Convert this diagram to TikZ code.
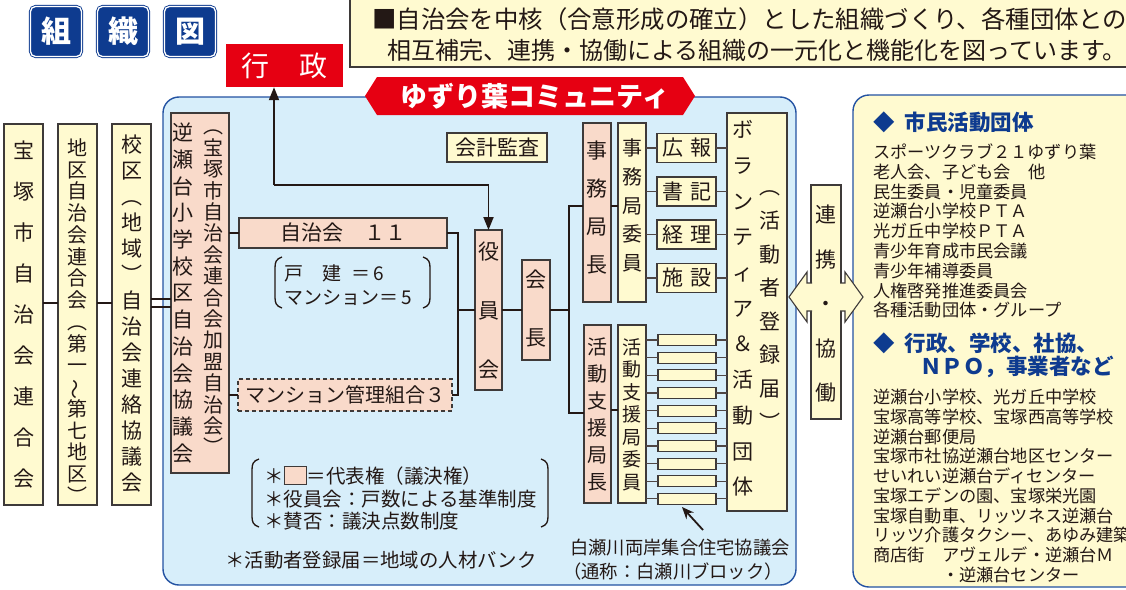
\documentclass[tikz,border=0pt]{standalone}
\usepackage{fontspec}
\usepackage{graphicx}
\setmainfont{Noto Sans CJK JP}
\usetikzlibrary{arrows.meta}
\definecolor{ink}{HTML}{231815}
\definecolor{tblue}{HTML}{0E3B8F}
\definecolor{rred}{HTML}{E60012}
\definecolor{lyel}{HTML}{FFFAD0}
\definecolor{pinkc}{HTML}{F9DACA}
\definecolor{lblue}{HTML}{D7EEFA}
\definecolor{bblue}{HTML}{2352A2}
\definecolor{boxline}{HTML}{3E3A39}
\newcommand{\vwave}{\rotatebox[origin=c]{90}{～}}
\newcommand{\legsq}{{\setlength{\fboxsep}{0pt}\setlength{\fboxrule}{1pt}\fcolorbox{boxline}{pinkc}{\rule{0pt}{17pt}\rule{21pt}{0pt}}}}
\begin{document}
\begin{tikzpicture}[x=1pt,y=-1pt,
  box/.style={draw=boxline,line width=1.1pt,inner sep=0pt,outer sep=0pt},
  pbox/.style={box,fill=pinkc},
  ybox/.style={box,fill=lyel},
  vt/.style 2 args={font=\fontsize{#1}{#2}\selectfont,align=center,inner sep=0pt,text=ink},
  ht/.style={font=\fontsize{#1}{#1}\selectfont,inner sep=0pt,text=ink},
  conn/.style={draw=ink,line width=1.8pt},
  thinc/.style={draw=ink!80,line width=1.2pt},
  arrtip/.style={-{Triangle[length=13pt,width=10pt]}},
  titlebox/.style={fill=tblue,draw=tblue,double=white,double distance=1.3pt,line width=0.9pt,rounded corners=5pt,minimum width=51pt,minimum height=50pt,inner sep=0pt,text=white,font=\fontsize{30}{30}\selectfont\bfseries},
]
\useasboundingbox (0,0) rectangle (1126,589);
\clip (0,0) rectangle (1126,589);

% title
\node[titlebox] (ti1) at (56,31.5) {組};
\node[titlebox] (ti2) at (123,31.5) {織};
\node[titlebox] (ti3) at (190,31.5) {図};

% gyosei
\node[fill=rred,minimum width=117pt,minimum height=43pt,inner sep=0pt,text=white,font=\fontsize{28}{28}\selectfont] (gyosei) at (284.5,65.5) {行\hspace{30pt}政};

% top text box
\node[ybox,line width=1.4pt,minimum width=790pt,minimum height=75pt,anchor=north west] (topbox) at (350,-8) {};
\node[ht=24.4,anchor=west] (top1) at (372,19) {■自治会を中核（合意形成の確立）とした組織づくり、各種団体との};
\node[ht=24,anchor=west] (top2) at (387,50) {相互補完、連携・協働による組織の一元化と機能化を図っています。};

% regions
\draw[fill=lblue,draw=bblue,line width=1.4pt,rounded corners=16pt] (163,97) rectangle (796,585);
\draw[fill=lyel,draw=bblue,line width=1.4pt,rounded corners=16pt] (853,95) rectangle (1160,587);

% banner
\fill[rred] (365,96) -- (377,77) -- (683,77) -- (695,96) -- (683,115) -- (377,115) -- cycle;
\node[inner sep=0pt,text=white,font=\fontsize{27}{27}\selectfont\bfseries] (banner) at (535,96) {ゆずり葉コミュニティ};

% left column boxes
\node[ybox,minimum width=39pt,minimum height=381pt] (A) at (23.5,314.5) {};
\node[vt={21}{41}] (At) at (23.5,315) {宝\\塚\\市\\自\\治\\会\\連\\合\\会};
\node[ybox,minimum width=39pt,minimum height=381pt] (B) at (77.5,314.5) {};
\node[vt={20}{21.75}] (Bt) at (77.5,321) {地\\区\\自\\治\\会\\連\\合\\会\\︵\\第\\一\\\vwave\\第\\七\\地\\区\\︶};
\node[ybox,minimum width=39pt,minimum height=381pt] (C) at (131.5,314.5) {};
\node[vt={21}{26}] (Ct) at (131.5,314) {校\\区\\︵\\地\\域\\︶\\自\\治\\会\\連\\絡\\協\\議\\会};
\node[pbox,minimum width=58pt,minimum height=360pt] (D) at (200,293) {};
\node[vt={21}{26.7}] (Dl) at (183,293) {逆\\瀬\\台\\小\\学\\校\\区\\自\\治\\会\\協\\議\\会};
\node[vt={20}{21.4}] (Dr) at (213,292.5) {︵\\宝\\塚\\市\\自\\治\\会\\連\\合\\会\\加\\盟\\自\\治\\会\\︶};

\draw[conn] (A.east |- 0,303) -- (B.west |- 0,303);
\draw[conn] (B.east |- 0,303) -- (C.west |- 0,303);
\draw[conn,line width=1.5pt] (C.east |- 0,299) -- (D.west |- 0,299);
\draw[conn,line width=1.5pt] (C.east |- 0,307) -- (D.west |- 0,307);

% jichikai boxes
\node[pbox,minimum width=208pt,minimum height=30pt,font=\fontsize{21}{21}\selectfont,text=ink] (JC) at (343,233) {自治会　１１};
\node[pbox,dashed,dash pattern=on 4pt off 3pt,minimum width=214pt,minimum height=32pt,font=\fontsize{20}{20}\selectfont,text=ink] (MK) at (345,395) {マンション管理組合３};
\node[anchor=west,align=left,font=\fontsize{19}{24}\selectfont,text=ink,inner sep=0pt] (kodate) at (284,285) {戸\hspace{19pt}建\hspace{10pt}＝\hspace{3pt}6\\マンション＝\hspace{3pt}5};
\draw[ink,line width=1.3pt] (282,257) .. controls (276,259) and (275,262) .. (275,268) -- (275,297) .. controls (275,303) and (276,306) .. (282,308);
\draw[ink,line width=1.3pt] (423,257) .. controls (429,259) and (430,262) .. (430,268) -- (430,297) .. controls (430,303) and (429,306) .. (423,308);

\draw[conn] (D.east |- JC.west) -- (JC.west);
\draw[conn] (D.east |- MK.west) -- (MK.west);

% audit, yakuin, kaicho
\node[ybox,minimum width=100pt,minimum height=29pt,font=\fontsize{21}{21}\selectfont,text=ink] (audit) at (497,147.5) {会計監査};
\node[pbox,minimum width=27pt,minimum height=160pt] (Yakuin) at (488.5,310) {};
\node[vt={21}{59}] (Yt) at (488.5,311) {役\\員\\会};
\node[pbox,minimum width=28pt,minimum height=100pt] (Kaicho) at (536,310) {};
\node[vt={21}{58}] (Kt) at (536,309) {会\\長};

\coordinate (jn) at (458,310);
\draw[conn] (JC.east) -| (jn) |- (MK.east);
\draw[conn] (jn) -- (Yakuin.west |- jn);

\coordinate (br) at (274,185);
\draw[conn,arrtip] (br) -- (br |- gyosei.south);
\draw[conn,arrtip] (br) -| (Yakuin.north);

\draw[conn] (Yakuin.east) -- (Kaicho.west);

% jimu / katsudou
\node[pbox,minimum width=28pt,minimum height=179pt] (Jimu) at (597,212.5) {};
\node[vt={21}{38.3}] (Jt) at (597,207.5) {事\\務\\局\\長};
\node[ybox,minimum width=28pt,minimum height=179pt] (JimuI) at (632,212.5) {};
\node[vt={20}{28.75}] (JIt) at (632,205.5) {事\\務\\局\\委\\員};
\node[pbox,minimum width=27pt,minimum height=178pt] (Katsu) at (597.5,414) {};
\node[vt={20}{27}] (KAt) at (597.5,414.5) {活\\動\\支\\援\\局\\長};
\node[ybox,minimum width=28pt,minimum height=178pt] (KatsuI) at (632,414) {};
\node[vt={19}{22.5}] (KIt) at (632,414.5) {活\\動\\支\\援\\局\\委\\員};

\coordinate (k1) at (569,206);
\coordinate (k2) at (569,413);
\draw[conn] (Kaicho.east) -- (Kaicho.east -| k1);
\draw[conn] (Jimu.west |- k1) -- (k1) -- (k2) -- (Katsu.west |- k2);
\draw[conn] (Jimu.east |- 0,206) -- (JimuI.west |- 0,206);
\draw[conn] (Katsu.east |- 0,410) -- (KatsuI.west |- 0,410);

% volunteer box
\node[ybox,minimum width=60pt,minimum height=398pt] (Vol) at (757,312) {};
\node[vt={21}{35.7}] (VolL) at (743,308.5) {ボ\\ラ\\ン\\テ\\ィ\\ア\\＆\\活\\動\\団\\体};
\node[vt={21}{33.6}] (VolR) at (770,310.5) {︵\\活\\動\\者\\登\\録\\届\\︶};

% jimu committee items
\node[ybox,minimum width=59pt,minimum height=29pt,font=\fontsize{21}{21}\selectfont,text=ink] (kouhou) at (686.5,148) {広\hspace{7pt}報};
\node[ybox,minimum width=59pt,minimum height=29pt,font=\fontsize{21}{21}\selectfont,text=ink] (shoki) at (686.5,191.5) {書\hspace{7pt}記};
\node[ybox,minimum width=59pt,minimum height=29pt,font=\fontsize{21}{21}\selectfont,text=ink] (keiri) at (686.5,234.5) {経\hspace{7pt}理};
\node[ybox,minimum width=59pt,minimum height=29pt,font=\fontsize{21}{21}\selectfont,text=ink] (shisetsu) at (686.5,278) {施\hspace{7pt}設};
\foreach \n in {kouhou,shoki,keiri,shisetsu}{
  \draw[thinc] (JimuI.east |- \n.west) -- (\n.west);
  \draw[thinc] (\n.east) -- (Vol.west |- \n.east);
}

% small block boxes
\foreach \i in {0,...,9}{
  \node[ybox,minimum width=58pt,minimum height=11pt] (s\i) at (687,{340+17.65*\i}) {};
  \draw[thinc] (KatsuI.east |- s\i.west) -- (s\i.west);
  \draw[thinc] (s\i.east) -- (Vol.west |- s\i.east);
}
\coordinate (arrS) at (703,530);
\coordinate (arrE) at (682,507);
\draw[conn,-{Stealth[length=12pt,width=10pt]}] (arrS) -- (arrE);
\node[ht=18.3,anchor=west] (shira1) at (570,548) {白瀬川両岸集合住宅協議会};
\node[ht=18.3,anchor=west] (shira2) at (563,572) {（通称：白瀬川ブロック）};

% legend
\node[anchor=west,align=left,font=\fontsize{19.5}{22.5}\selectfont,text=ink,inner sep=0pt] (legend) at (264,498) {＊\legsq＝代表権（議決権）\\＊役員会：戸数による基準制度\\＊賛否：議決点数制度};
\draw[ink,line width=1.3pt] (259,459) .. controls (253,461) and (252,464) .. (252,470) -- (252,516) .. controls (252,522) and (253,525) .. (259,527);
\draw[ink,line width=1.3pt] (541,459) .. controls (547,461) and (548,464) .. (548,470) -- (548,516) .. controls (548,522) and (547,525) .. (541,527);
\node[ht=19.4,anchor=west] (bank) at (225,560) {＊活動者登録届＝地域の人材バンク};

% renkei
\node[ybox,minimum width=30pt,minimum height=234pt] (Renkei) at (826,302) {};
\node[vt={21}{44.5}] (Rt) at (826,304) {連\\携\\・\\協\\働};
\filldraw[fill=lyel,draw=boxline,line width=1.1pt] (812,283) -- (807,283) -- (807,272) -- (789,297) -- (807,322) -- (807,311) -- (812,311);
\filldraw[fill=lyel,draw=boxline,line width=1.1pt] (840,283) -- (845,283) -- (845,272) -- (863,297) -- (845,322) -- (845,311) -- (840,311);

% right box texts
\node[anchor=west,inner sep=0pt,text=tblue,font=\fontsize{21.5}{21.5}\selectfont\bfseries] (h1) at (873,122) {◆\hspace{10pt}市民活動団体};
\node[anchor=west,align=left,inner sep=0pt,text=ink,font=\fontsize{17.2}{19.8}\selectfont] (list1) at (873,231) {スポーツクラブ２１ゆずり葉\\老人会、子ども会　他\\民生委員・児童委員\\逆瀬台小学校ＰＴＡ\\光ガ丘中学校ＰＴＡ\\青少年育成市民会議\\青少年補導委員\\人権啓発推進委員会\\各種活動団体・グループ};
\node[anchor=west,inner sep=0pt,text=tblue,font=\fontsize{21.5}{21.5}\selectfont\bfseries] (h2a) at (873,343) {◆\hspace{10pt}行政、学校、社協、};
\node[anchor=west,inner sep=0pt,text=tblue,font=\fontsize{21.5}{21.5}\selectfont\bfseries] (h2b) at (920,367) {ＮＰＯ，事業者など};
\node[anchor=west,align=left,inner sep=0pt,text=ink,font=\fontsize{17.2}{19.75}\selectfont] (list2) at (873,486) {逆瀬台小学校、光ガ丘中学校\\宝塚高等学校、宝塚西高等学校\\逆瀬台郵便局\\宝塚市社協逆瀬台地区センター\\せいれい逆瀬台ディセンター\\宝塚エデンの園、宝塚栄光園\\宝塚自動車、リッツネス逆瀬台\\リッツ介護タクシー、あゆみ建築\\商店街　アヴェルデ・逆瀬台Ｍ\\　　　　・逆瀬台センター};
\end{tikzpicture}
\end{document}
